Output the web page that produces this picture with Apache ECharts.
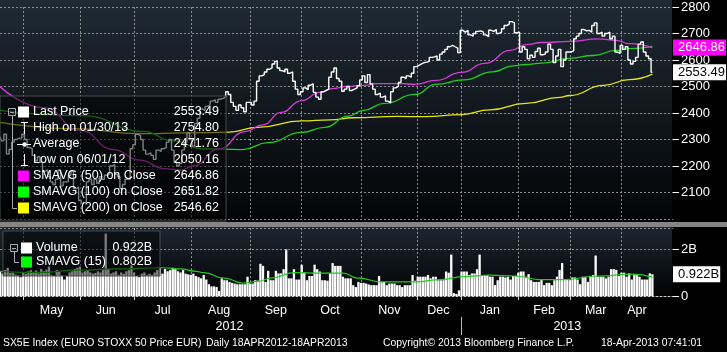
<!DOCTYPE html>
<html>
<head>
<meta charset="utf-8">
<title>SX5E Index</title>
<script src="https://cdn.jsdelivr.net/npm/echarts@6/dist/echarts.min.js"></script>
<style>
  html, body { margin: 0; padding: 0; background: #000; }
  #chart { width: 727px; height: 352px; }
</style>
</head>
<body>
<div id="chart"></div>
<script>
// trading days 18APR2012 - 18APR2013, weekdays less exchange holidays
var holidays = ['2012-05-01', '2012-12-24', '2012-12-25', '2012-12-26', '2012-12-31', '2013-01-01', '2013-03-29', '2013-04-01'];
var monthNames = ['Jan', 'Feb', 'Mar', 'Apr', 'May', 'Jun', 'Jul', 'Aug', 'Sep', 'Oct', 'Nov', 'Dec'];

// daily close
var close = [
  2312, 2295, 2320, 2245, 2262, 2290, 2300, 2305, 2306,
  2320, 2300, 2270, 2265, 2240, 2220, 2235, 2215, 2180, 2185, 2160, 2140, 2130, 2150, 2185, 2125, 2140, 2140, 2165, 2180, 2115, 2120,
  2070, 2060, 2065, 2140, 2150, 2130, 2150, 2135, 2160, 2150, 2165, 2170, 2200, 2205, 2170, 2160, 2115, 2130, 2150, 2150, 2265,
  2280, 2320, 2315, 2300, 2260, 2245, 2250, 2240, 2225, 2260, 2255, 2265, 2270, 2290, 2300, 2260, 2215, 2200, 2210, 2260, 2290, 2325,
  2300, 2275, 2360, 2380, 2415, 2410, 2425, 2430, 2445, 2450, 2440, 2452, 2455, 2460, 2480, 2470, 2440, 2425, 2410, 2430, 2420, 2405, 2440,
  2440, 2430, 2445, 2520, 2540, 2545, 2555, 2565, 2570, 2585, 2595, 2570, 2560, 2555, 2565, 2550, 2555, 2520, 2490, 2470,
  2480, 2495, 2488, 2505, 2510, 2478, 2460, 2452, 2480, 2485, 2490, 2535, 2555, 2570, 2530, 2520, 2482, 2490, 2500, 2485, 2490, 2495, 2503,
  2525, 2540, 2515, 2545, 2510, 2490, 2470, 2475, 2460, 2465, 2445, 2438, 2480, 2495, 2500, 2515, 2535, 2530, 2540, 2535, 2550, 2575,
  2580, 2585, 2590, 2592, 2595, 2610, 2612, 2615, 2600, 2622, 2630, 2640, 2650, 2655, 2650, 2645, 2628,
  2712, 2705, 2712, 2695, 2690, 2700, 2708, 2710, 2705, 2695, 2688, 2712, 2708, 2715, 2700, 2705, 2718, 2730, 2735, 2745, 2740, 2703,
  2705, 2630, 2650, 2640, 2605, 2618, 2610, 2632, 2645, 2620, 2622, 2630, 2660, 2640, 2590, 2615, 2640, 2575, 2600, 2630,
  2630, 2635, 2680, 2690, 2700, 2715, 2710, 2712, 2705, 2730, 2740, 2700, 2705, 2690, 2700, 2705, 2680, 2690, 2630, 2625,
  2655, 2640, 2650, 2600, 2585, 2595, 2610, 2660, 2668, 2630, 2615, 2605, 2553.49
];

// daily volume, billions
var volume = [
  1.05, 0.95, 1.10, 1.20, 0.98, 1.00, 0.92, 0.88, 0.80,
  1.02, 0.95, 1.05, 1.10, 0.98, 1.08, 0.96, 1.15, 1.05, 1.12, 1.25, 0.90, 0.85, 1.10, 1.02, 0.88, 0.70, 0.85, 1.00, 1.05, 1.15, 1.20,
  1.25, 1.00, 1.05, 1.10, 1.00, 0.95, 0.98, 1.05, 1.00, 1.10, 2.65, 1.15, 0.95, 1.00, 1.05, 0.90, 1.00, 0.95, 1.05, 1.10, 1.30,
  1.00, 0.85, 0.80, 0.95, 1.00, 0.90, 0.95, 0.90, 1.00, 1.10, 1.20, 0.95, 1.15, 1.05, 1.10, 1.20, 1.15, 1.05, 1.00, 1.10, 0.95, 0.92,
  0.90, 0.95, 0.85, 0.80, 0.75, 0.89, 0.70, 0.50, 0.41, 0.41, 0.38, 0.21, 0.75, 0.67, 0.67, 0.60, 0.56, 0.53, 0.50, 0.50, 0.50, 0.50, 0.82,
  0.53, 0.53, 0.67, 0.65, 1.37, 1.28, 0.60, 1.07, 0.67, 0.67, 1.07, 0.96, 0.96, 1.14, 1.98, 0.75, 0.75, 1.14, 0.70, 0.70,
  1.33, 0.99, 0.67, 0.85, 0.85, 1.33, 1.14, 1.04, 0.67, 0.67, 0.65, 0.96, 1.40, 1.28, 1.28, 1.28, 0.82, 0.75, 0.75, 0.75, 0.46, 0.38, 0.60,
  0.56, 0.56, 0.53, 0.49, 0.46, 0.46, 0.46, 0.85, 0.60, 0.60, 0.46, 0.53, 0.53, 0.53, 0.46, 0.46, 0.38, 0.46, 0.46, 0.46, 0.89, 0.65,
  0.82, 0.82, 0.82, 0.82, 0.89, 0.75, 0.82, 0.82, 0.67, 0.67, 0.67, 1.04, 0.99, 1.76, 0.12, 0.09, 0.24,
  1.04, 1.04, 1.04, 0.89, 0.96, 0.96, 1.14, 1.76, 0.89, 0.89, 0.89, 0.82, 0.82, 0.46, 0.67, 0.82, 0.82, 0.79, 0.82, 0.70, 0.85, 0.85,
  0.99, 1.04, 1.04, 0.82, 0.93, 0.67, 0.60, 0.60, 0.60, 0.70, 0.46, 0.56, 0.56, 0.46, 0.67, 0.82, 1.11, 1.40, 0.70, 0.70,
  0.67, 0.79, 0.79, 0.70, 0.50, 0.82, 0.82, 0.60, 0.82, 0.89, 1.72, 0.82, 0.82, 0.82, 0.75, 0.82, 1.14, 1.14, 1.11, 0.85,
  0.99, 0.99, 0.82, 0.96, 0.70, 0.93, 0.93, 0.82, 0.70, 0.70, 0.70, 0.96, 0.922
];

// moving averages as [day index, value]
var sma50 = [[0, 2500], [17, 2420], [31, 2335], [44, 2262], [54, 2222], [64, 2190], [70, 2185], [75, 2200], [85, 2265], [95, 2330],
  [102, 2355], [109, 2402], [117, 2447], [124, 2478], [129, 2492], [134, 2500], [141, 2504], [146, 2511], [151, 2511], [156, 2511],
  [161, 2508], [169, 2523], [179, 2553], [188, 2587], [198, 2636], [204, 2658], [210, 2666], [221, 2670], [232, 2680], [239, 2674],
  [244, 2662], [253, 2646.86]];
var sma100 = [[0, 2410], [32, 2390], [56, 2330], [67, 2295], [79, 2265], [94, 2262], [104, 2288], [117, 2327], [126, 2346], [135, 2388],
  [141, 2410], [149, 2436], [161, 2470], [169, 2508], [180, 2525], [191, 2555], [199, 2578], [204, 2583], [210, 2588], [221, 2606],
  [230, 2617], [239, 2636], [244, 2643], [253, 2651.82]];
var sma200 = [[0, 2365], [30, 2340], [54, 2322], [79, 2326], [89, 2328], [100, 2346], [117, 2370], [128, 2374], [137, 2382], [154, 2387],
  [165, 2386], [179, 2394], [190, 2412], [204, 2436], [217, 2459], [221, 2466], [234, 2504], [244, 2526], [253, 2546.62]];
var volSma15 = [[0, 1.05], [15, 1.0], [30, 1.1], [45, 1.15], [63, 1.2], [70, 1.15], [76, 1.05], [79, 0.99], [87, 0.76], [94, 0.55],
  [100, 0.62], [105, 0.76], [114, 0.99], [124, 0.97], [133, 0.97], [139, 0.76], [148, 0.6], [161, 0.6], [171, 0.7], [180, 0.82],
  [190, 0.89], [200, 0.85], [209, 0.7], [219, 0.7], [232, 0.85], [245, 0.93], [253, 0.802]];

var legendRows = ['Last Price', 'High on 01/30/13', 'Average', 'Low on 06/01/12', 'SMAVG (50) on Close', 'SMAVG (100) on Close', 'SMAVG (200) on Close'];
var legendValues = ['2553.49', '2754.80', '2471.76', '2050.16', '2646.86', '2651.82', '2546.62'];
var volLegendRows = ['Volume', 'SMAVG (15)'];
var volLegendValues = ['0.922B', '0.802B'];

var dates = [];
for (var t = Date.UTC(2012, 3, 18); t <= Date.UTC(2013, 3, 18); t += 864e5) {
  var d = new Date(t), wd = d.getUTCDay(), s = d.toISOString().slice(0, 10);
  if (wd === 0 || wd === 6 || holidays.indexOf(s) >= 0) continue;
  dates.push(s);
}
var nData = dates.length;
for (var k = 0; k < 8; k++) dates.push('');   // empty space right of last bar

var monthStart = dates.map(function (s, i) {
  return i > 0 && s !== '' && s.slice(0, 7) !== dates[i - 1].slice(0, 7);
});
var starts = [];
monthStart.forEach(function (v, i) { if (v) starts.push(i); });
var monthMid = {};
starts.forEach(function (s, j) {
  var e = j + 1 < starts.length ? starts[j + 1] : nData;
  monthMid[Math.floor((s + e) / 2)] = true;
});
var yearStart = dates.indexOf(dates.filter(function (s) { return s.slice(0, 4) === '2013'; })[0]);
var yearMid = {};
yearMid[Math.floor(yearStart / 2)] = true;
yearMid[Math.floor((yearStart + dates.length - 1) / 2)] = true;

var FONT = '"Liberation Sans", Arial, sans-serif';
var gridColor = '#8c8c8c';

function lastBox(text, fg, bg) {
  return {
    silent: true, symbol: 'none', animation: false,
    lineStyle: { color: 'rgba(0,0,0,0)', width: 1 },
    label: {
      show: true, position: 'end', distance: 0, formatter: text,
      color: fg, backgroundColor: bg, fontFamily: FONT, fontSize: 13,
      padding: [2, 1, 1, 5]
    }
  };
}

var graphics = [];
// pane backgrounds
graphics.push({ type: 'rect', z: -10, shape: { x: 0, y: 0, width: 672, height: 222 },
  style: { fill: new echarts.graphic.LinearGradient(0, 0, 0, 1, [{ offset: 0, color: '#1f2a35' }, { offset: 1, color: '#030405' }]) } });
graphics.push({ type: 'rect', z: -10, shape: { x: 0, y: 227, width: 672, height: 70 },
  style: { fill: new echarts.graphic.LinearGradient(0, 0, 0, 1, [{ offset: 0, color: '#1d2631' }, { offset: 1, color: '#020203' }]) } });
graphics.push({ type: 'rect', z: 20, shape: { x: 0, y: 222, width: 727, height: 5 }, style: { fill: '#858585' } });

// price legend
var lz = 100;
var LFONT = '12.5px ' + FONT;
graphics.push({ type: 'rect', z: lz, shape: { x: 0, y: 96, width: 226, height: 125 }, style: { fill: 'rgba(0,0,0,0.5)', stroke: '#4a4a4a' } });
graphics.push({ type: 'rect', z: lz, shape: { x: 8.5, y: 108.5, width: 7, height: 7 }, style: { fill: 'none', stroke: '#aaa' } });
graphics.push({ type: 'line', z: lz, shape: { x1: 10, y1: 112.5, x2: 14, y2: 112.5 }, style: { stroke: '#aaa' } });
graphics.push({ type: 'line', z: lz, shape: { x1: 12.5, y1: 116, x2: 12.5, y2: 208.5 }, style: { stroke: '#aaa' } });
graphics.push({ type: 'line', z: lz, shape: { x1: 12.5, y1: 208.5, x2: 17, y2: 208.5 }, style: { stroke: '#aaa' } });
var swatch = { 0: '#ffffff', 4: '#ff00ff', 5: '#00ff00', 6: '#ffff00' };
legendRows.forEach(function (name, i) {
  var y = 112 + i * 16;
  if (swatch[i]) graphics.push({ type: 'rect', z: lz, shape: { x: 18, y: y - 5.5, width: 11, height: 11 }, style: { fill: swatch[i] } });
  graphics.push({ type: 'text', z: lz, x: 33, y: y, style: { text: name, fill: '#fff', font: LFONT, align: 'left', verticalAlign: 'middle' } });
  graphics.push({ type: 'text', z: lz, x: 219, y: y, style: { text: legendValues[i], fill: '#fff', font: LFONT, align: 'right', verticalAlign: 'middle' } });
});
// high / average / low icons
graphics.push({ type: 'line', z: lz, shape: { x1: 24.5, y1: 122, x2: 24.5, y2: 134 }, style: { stroke: '#fff' } });
graphics.push({ type: 'line', z: lz, shape: { x1: 21, y1: 122.5, x2: 28, y2: 122.5 }, style: { stroke: '#fff' } });
graphics.push({ type: 'line', z: lz, shape: { x1: 17, y1: 144.5, x2: 31, y2: 144.5 }, style: { stroke: '#fff' } });
graphics.push({ type: 'circle', z: lz, shape: { cx: 24.5, cy: 144.5, r: 2.2 }, style: { fill: '#fff' } });
graphics.push({ type: 'line', z: lz, shape: { x1: 24.5, y1: 154, x2: 24.5, y2: 166 }, style: { stroke: '#fff' } });
graphics.push({ type: 'line', z: lz, shape: { x1: 21, y1: 165.5, x2: 28, y2: 165.5 }, style: { stroke: '#fff' } });

// volume legend
graphics.push({ type: 'rect', z: lz, shape: { x: 3, y: 231, width: 157, height: 45 }, style: { fill: 'rgba(0,0,0,0.5)', stroke: '#4a4a4a' } });
graphics.push({ type: 'rect', z: lz, shape: { x: 10.5, y: 244.5, width: 7, height: 7 }, style: { fill: 'none', stroke: '#aaa' } });
graphics.push({ type: 'line', z: lz, shape: { x1: 12, y1: 248.5, x2: 16, y2: 248.5 }, style: { stroke: '#aaa' } });
graphics.push({ type: 'line', z: lz, shape: { x1: 14.5, y1: 252, x2: 14.5, y2: 262.5 }, style: { stroke: '#aaa' } });
graphics.push({ type: 'line', z: lz, shape: { x1: 14.5, y1: 262.5, x2: 19, y2: 262.5 }, style: { stroke: '#aaa' } });
var volSwatch = ['#ffffff', '#00ff00'];
volLegendRows.forEach(function (name, i) {
  var y = 248 + i * 14;
  graphics.push({ type: 'rect', z: lz, shape: { x: 21, y: y - 5.5, width: 11, height: 11 }, style: { fill: volSwatch[i] } });
  graphics.push({ type: 'text', z: lz, x: 36, y: y, style: { text: name, fill: '#fff', font: LFONT, align: 'left', verticalAlign: 'middle' } });
  graphics.push({ type: 'text', z: lz, x: 152, y: y, style: { text: volLegendValues[i], fill: '#fff', font: LFONT, align: 'right', verticalAlign: 'middle' } });
});

// footer
[[3, 'SX5E Index (EURO STOXX 50 Price EUR)'], [206, 'Daily 18APR2012-18APR2013'],
 [383, 'Copyright\u00a9 2013 Bloomberg Finance L.P.'], [601, '18-Apr-2013 07:41:01']].forEach(function (p) {
  graphics.push({ type: 'text', z: lz, x: p[0], y: 343, style: { text: p[1], fill: '#fff', font: '10.4px ' + FONT, align: 'left', verticalAlign: 'middle' } });
});

var myChart = echarts.init(document.getElementById('chart'));
option = {
  backgroundColor: '#000',
  animation: false,
  graphic: { elements: graphics },
  grid: [
    { left: -4, width: 677, top: 7, height: 212 },
    { left: -4, width: 677, top: 228, height: 68 }
  ],
  xAxis: [
    {
      type: 'category', gridIndex: 0, data: dates, boundaryGap: false,
      axisLine: { show: false }, axisTick: { show: false }, axisLabel: { show: false },
      splitLine: { show: true, interval: function (i) { return monthStart[i]; }, lineStyle: { color: gridColor, type: [2, 2] } }
    },
    {
      type: 'category', gridIndex: 1, data: dates, boundaryGap: false,
      axisLine: { show: true, lineStyle: { color: '#cfcfcf', type: [2, 2] } },
      axisTick: { show: true, interval: function (i) { return monthStart[i]; }, length: 4, lineStyle: { color: '#cfcfcf' } },
      axisLabel: {
        interval: function (i) { return !!monthMid[i]; },
        formatter: function (v) { return monthNames[parseInt(v.slice(5, 7), 10) - 1]; },
        color: '#fff', fontFamily: FONT, fontSize: 12.5, margin: 8
      },
      splitLine: { show: true, interval: function (i) { return monthStart[i]; }, lineStyle: { color: gridColor, type: [2, 2] } }
    },
    {
      type: 'category', gridIndex: 1, data: dates, boundaryGap: false, position: 'bottom', offset: 21,
      axisLine: { show: false },
      axisTick: { show: true, interval: function (i) { return i === yearStart; }, length: 18, lineStyle: { color: '#bbb' } },
      axisLabel: {
        interval: function (i) { return !!yearMid[i]; },
        formatter: function (v) { return v.slice(0, 4); },
        color: '#fff', fontFamily: FONT, fontSize: 12.5, margin: 3
      }
    }
  ],
  yAxis: [
    {
      type: 'value', gridIndex: 0, position: 'right', min: 2000, max: 2800, interval: 100,
      axisLine: { show: false },
      axisTick: { show: true, length: 6, lineStyle: { color: '#fff' } },
      axisLabel: { color: '#fff', fontFamily: FONT, fontSize: 13, margin: 8, showMinLabel: false,
        formatter: function (v) { return String(v); } },
      splitLine: { lineStyle: { color: gridColor, type: [2, 2] } }
    },
    {
      type: 'value', gridIndex: 1, position: 'right', min: 0, max: 2.89, interval: 2,
      axisLine: { show: false },
      axisTick: { show: true, length: 6, lineStyle: { color: '#fff' } },
      axisLabel: {
        color: '#fff', fontFamily: FONT, fontSize: 13, margin: 8, showMaxLabel: false,
        formatter: function (v) { return v === 0 ? '0' : v + 'B'; }
      },
      splitLine: { lineStyle: { color: gridColor, type: [2, 2] } }
    }
  ],
  series: [
    {
      name: 'SMAVG (200) on Close', type: 'line', xAxisIndex: 0, yAxisIndex: 0, data: sma200,
      smooth: true, smoothMonotone: 'x', symbol: 'none', lineStyle: { color: '#e6e61e', width: 1.3 }, z: 3
    },
    {
      name: 'SMAVG (100) on Close', type: 'line', xAxisIndex: 0, yAxisIndex: 0, data: sma100,
      smooth: true, smoothMonotone: 'x', symbol: 'none', lineStyle: { color: '#22cc22', width: 1.3 }, z: 3
    },
    {
      name: 'SMAVG (50) on Close', type: 'line', xAxisIndex: 0, yAxisIndex: 0, data: sma50,
      smooth: true, smoothMonotone: 'x', symbol: 'none', lineStyle: { color: '#d83cd8', width: 1.3 }, z: 3,
      markLine: Object.assign(lastBox(legendValues[4], '#fff', '#ff00ff'), { data: [{ yAxis: sma50[sma50.length - 1][1] }] })
    },
    {
      name: 'Last Price', type: 'line', xAxisIndex: 0, yAxisIndex: 0, data: close,
      step: 'middle', symbol: 'none', lineStyle: { color: '#ffffff', width: 1.4 }, z: 4,
      markLine: Object.assign(lastBox(close[close.length - 1].toFixed(2), '#000', '#fff'), { data: [{ yAxis: close[close.length - 1] }] })
    },
    {
      name: 'Volume', type: 'bar', xAxisIndex: 1, yAxisIndex: 1, data: volume,
      barWidth: 2.3, itemStyle: { color: '#ffffff' }, z: 3,
      markLine: Object.assign(lastBox(volume[volume.length - 1] + 'B', '#000', '#fff'), { data: [{ yAxis: volume[volume.length - 1] }] })
    },
    {
      name: 'SMAVG (15)', type: 'line', xAxisIndex: 1, yAxisIndex: 1, data: volSma15,
      smooth: true, smoothMonotone: 'x', symbol: 'none', lineStyle: { color: '#22cc22', width: 1.2 }, z: 4
    }
  ]
};
myChart.setOption(option);
</script>
</body>
</html>
